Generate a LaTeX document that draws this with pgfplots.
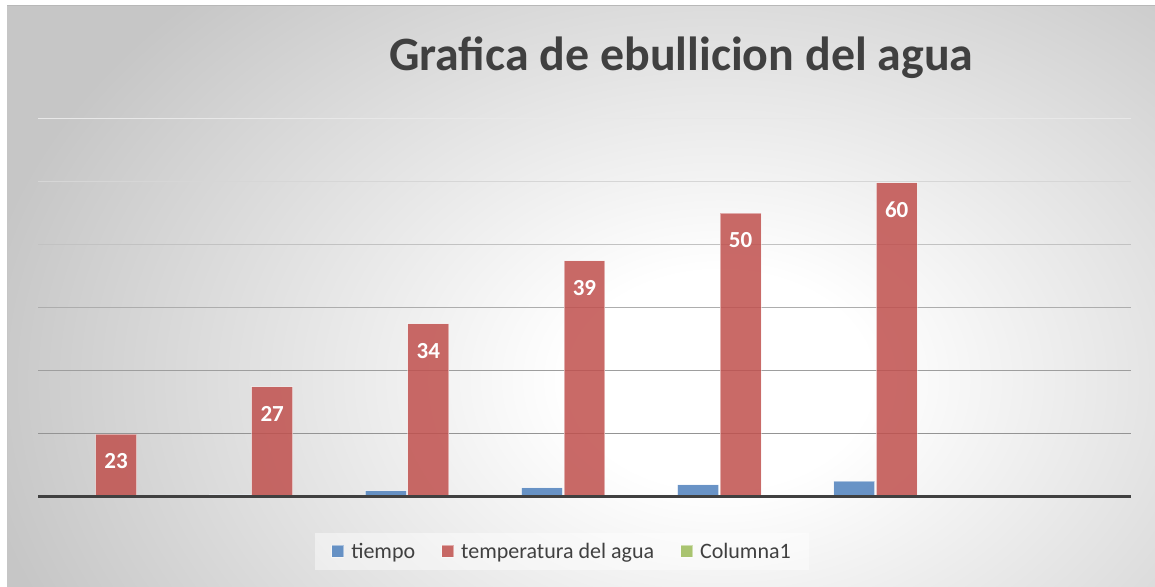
\documentclass[border=0pt]{standalone}
\usepackage{fontspec}
\setmainfont{Carlito}
\usepackage{pgfplots}
\pgfplotsset{compat=1.18}
\definecolor{bgedge}{HTML}{C6C6C6}
\definecolor{bluebar}{HTML}{4F81BD}
\definecolor{redbar}{HTML}{C0504D}
\definecolor{greenbar}{HTML}{9BBB59}
\definecolor{txt}{HTML}{404040}
\definecolor{base}{HTML}{404040}
\pgfdeclareradialshading{bgshade}{\pgfpoint{0bp}{0bp}}{color(0bp)=(white); color(5bp)=(white); color(25bp)=(bgedge); color(50bp)=(bgedge)}
\pgfplotsset{
  sqleg/.style={legend image code/.code={\draw[##1] (0pt,-6pt) rectangle (12pt,6pt);}},
}
\begin{document}
\begin{tikzpicture}
\useasboundingbox (0pt,0pt) rectangle (1155pt,586pt);
\fill[white] (0pt,0pt) rectangle (1155pt,586pt);
\begin{scope}
\clip (7pt,0pt) rectangle (1155pt,580pt);
\fill[bgedge] (7pt,0pt) rectangle (1155pt,580pt);
\shade[shading=bgshade] (-30pt,-334pt) rectangle (1470pt,746pt);
\end{scope}
\draw[color=bgedge!80!gray, line width=1pt] (7pt,580pt) -- (1155pt,580pt);
\draw[color=bgedge, line width=0.6pt] (7pt,0pt) -- (7pt,580pt);
\begin{axis}[
  at={(38pt,89.5pt)}, anchor=south west,
  scale only axis, width=1093pt, height=378pt,
  xmin=-0.5, xmax=6.5, ymin=0, ymax=60,
  axis lines=none, xtick=\empty, ytick=\empty,
  clip=false,
  title={Grafica de ebullicion del agua},
  title style={at={(axis description cs:0.5885,1)}, anchor=base, yshift=42pt,
    font=\bfseries\fontsize{47.9}{56}\selectfont, text=txt},
  legend style={at={(axis description cs:0.4795,-0.145)}, anchor=center,
    draw=none, fill=white, fill opacity=0.45, text opacity=1,
    font=\fontsize{22}{26}\selectfont, text=txt,
    inner xsep=16pt, inner ysep=8pt,
    /tikz/every odd column/.append style={column sep=5pt},
    /tikz/every even column/.append style={column sep=24pt}},
  legend columns=3,
]
% gridlines
\addplot[forget plot, color=black!9, line width=1.3pt] coordinates {(-0.5,60) (6.5,60)};
\addplot[forget plot, color=black!16, line width=1.3pt] coordinates {(-0.5,50) (6.5,50)};
\addplot[forget plot, color=black!24, line width=1.3pt] coordinates {(-0.5,40) (6.5,40)};
\addplot[forget plot, color=black!32, line width=1.3pt] coordinates {(-0.5,30) (6.5,30)};
\addplot[forget plot, color=black!38, line width=1.3pt] coordinates {(-0.5,20) (6.5,20)};
\addplot[forget plot, color=black!42, line width=1.3pt] coordinates {(-0.5,10) (6.5,10)};
% tiempo
\addplot[ybar, bar width=0.262, bar shift=-0.272, fill=bluebar, fill opacity=0.85,
  draw=white, draw opacity=0.45, line width=1pt, sqleg]
  coordinates {(1,0.25) (2,0.9) (3,1.35) (4,1.85) (5,2.45)};
\addlegendentry{tiempo}
% temperatura del agua
\addplot[ybar, bar width=0.262, bar shift=0, fill=redbar, fill opacity=0.85,
  draw=white, draw opacity=0.45, line width=1pt, sqleg,
  point meta=explicit symbolic, nodes near coords,
  nodes near coords style={anchor=center, yshift=-27pt, text=white, text opacity=1,
    font=\bfseries\fontsize{23}{26}\selectfont}]
  coordinates {(0,9.9) [23] (1,17.4) [27] (2,27.4) [34] (3,37.4) [39] (4,45.0) [50] (5,49.8) [60]};
\addlegendentry{temperatura del agua}
\addlegendimage{sqleg, fill=greenbar, fill opacity=0.85, draw=white, draw opacity=0.45, line width=1pt}
\addlegendentry{Columna1}
% baseline
\addplot[forget plot, color=base, line width=3pt] coordinates {(-0.5,0) (6.5,0)};
\end{axis}
\end{tikzpicture}
\end{document}
